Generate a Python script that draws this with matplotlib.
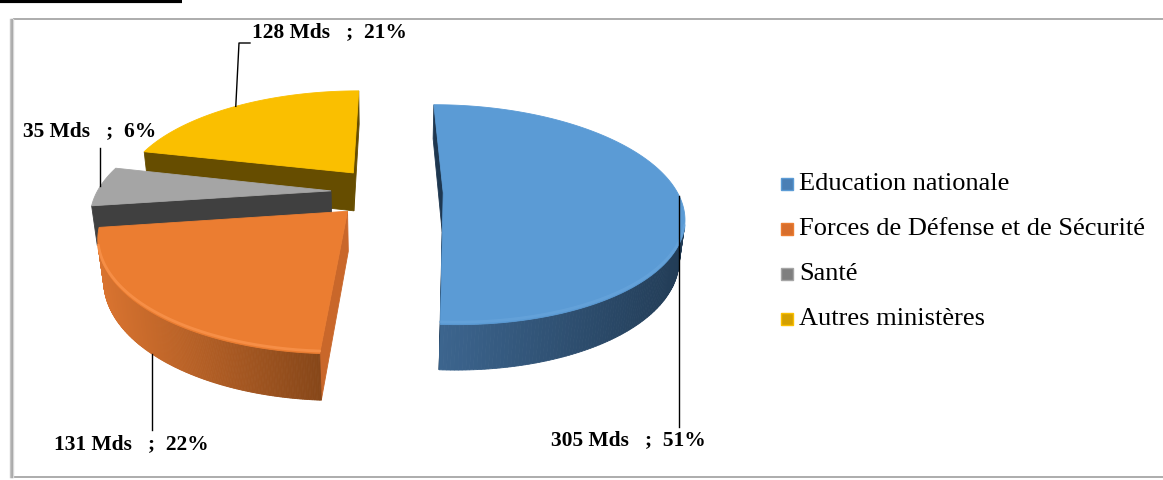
import numpy as np
import matplotlib
matplotlib.use('Agg')
import matplotlib.pyplot as plt
from matplotlib.patches import Polygon, Rectangle
from matplotlib.colors import to_rgb

plt.rcParams['font.family'] = ['Liberation Serif', 'DejaVu Serif']

# ---------------- data ----------------
categories = ['Education nationale', 'Forces de Défense et de Sécurité', 'Santé', 'Autres ministères']
values_mds = [305, 131, 35, 128]
unit_label = 'Mds'

# ---------------- style ----------------
top_colors = ['#5B9BD5', '#EB7D31', '#A5A5A5', '#FABF00']
rim_colors = ['#6AA6DD', '#F8924A', '#B4B4B4', '#FFCB30']
rim_alpha = [0.6, 0.85, 0.6, 0.6]
wall_light = ['#3D6690', '#DA7430', '#5A5A5A', '#8A6A00']
wall_dark = ['#223C56', '#874719', '#3C3C3C', '#5E4700']
radial_colors = ['#1E3750', '#C9672A', '#404040', '#664D00']
legend_colors = ['#4A7FB5', '#D86E2C', '#7F7F7F', '#D4A000']

# 3D projection parameters (perspective camera)
S_ = 0.45
C_ = np.sqrt(1 - S_ ** 2)
DIST = 4.48
FOC = 234 * DIST
CX, CY = 387, 192
HEIGHT = 0.19
EXPLODE = 0.24

fig = plt.figure(figsize=(11.63, 4.8), dpi=100)
ax = fig.add_axes([0, 0, 1, 1])
ax.set_xlim(0, 1163)
ax.set_ylim(480, 0)
ax.axis('off')


def proj(x, y, z):
    x = np.asarray(x, float); y = np.asarray(y, float); z = np.asarray(z, float)
    d = DIST + y * C_ - z * S_
    w = y * S_ + z * C_
    return CX + FOC * x / d, CY - FOC * w / d


def depth(x, y, z):
    return DIST + y * C_ - z * S_


cam = np.array([0.0, -DIST * C_, DIST * S_])

vals = np.array(values_mds, float)
fracs = vals / vals.sum()
cum = np.concatenate([[0], np.cumsum(fracs)])
slices = []
for i in range(len(vals)):
    a_hi = np.deg2rad(90 - cum[i] * 360)
    a_lo = np.deg2rad(90 - cum[i + 1] * 360)
    mid = 0.5 * (a_hi + a_lo)
    ox, oy = EXPLODE * np.cos(mid), EXPLODE * np.sin(mid)
    slices.append(dict(i=i, a0=a_lo, a1=a_hi, mid=mid, ox=ox, oy=oy))


def lerp_col(c1, c2, t):
    a = np.array(to_rgb(c1)); b = np.array(to_rgb(c2))
    return tuple(a + (b - a) * np.clip(t, 0, 1))


for sl in sorted(slices, key=lambda s: -s['oy']):
    i = sl['i']; ox, oy = sl['ox'], sl['oy']
    t = np.linspace(sl['a0'], sl['a1'], 240)
    rx, ry = ox + np.cos(t), oy + np.sin(t)
    tx, ty = proj(rx, ry, 0 * t)
    bx, by = proj(rx, ry, 0 * t - HEIGHT)
    xmin, xmax = tx.min(), tx.max()
    pieces = []
    vis = np.zeros(len(t), bool)
    for k in range(len(t) - 1):
        tm = 0.5 * (t[k] + t[k + 1])
        n = np.array([np.cos(tm), np.sin(tm), 0])
        p = np.array([ox + np.cos(tm), oy + np.sin(tm), -HEIGHT / 2])
        if n @ (cam - p) > 0:
            vis[k] = vis[k + 1] = True
            poly = [(tx[k], ty[k]), (tx[k + 1], ty[k + 1]), (bx[k + 1], by[k + 1]), (bx[k], by[k])]
            frac = ((tx[k] + tx[k + 1]) / 2 - xmin) / max(xmax - xmin, 1)
            col = lerp_col(wall_light[i], wall_dark[i], frac)
            pieces.append((depth(*p), poly, col))
    for a, sign in ((sl['a0'], -1), (sl['a1'], 1)):
        if sign < 0:
            n = np.array([np.sin(a), -np.cos(a), 0])
        else:
            n = np.array([-np.sin(a), np.cos(a), 0])
        ex, ey = ox + np.cos(a), oy + np.sin(a)
        p = np.array([(ox + ex) / 2, (oy + ey) / 2, -HEIGHT / 2])
        if n @ (cam - p) > 0:
            xs = [ox, ex, ex, ox]; ys = [oy, ey, ey, oy]; zs = [0, 0, -HEIGHT, -HEIGHT]
            px, py = proj(xs, ys, zs)
            pieces.append((depth(*p), list(zip(px, py)), radial_colors[i]))
    for dd, poly, col in sorted(pieces, key=lambda q: -q[0]):
        ax.add_patch(Polygon(poly, closed=True, facecolor=col, edgecolor=col, lw=0.6))
    ax0, ay0 = proj(ox, oy, 0)
    top = [(float(ax0), float(ay0))] + list(zip(tx, ty))
    ax.add_patch(Polygon(top, closed=True, facecolor=top_colors[i], edgecolor=top_colors[i], lw=0.6))
    if vis.any():
        ax.plot(np.where(vis, tx, np.nan), np.where(vis, ty - 2.5, np.nan),
                color=rim_colors[i], lw=2.0, alpha=rim_alpha[i], solid_capstyle='round')
    sl['anchor_top'] = proj(ox + np.cos(sl['mid']), oy + np.sin(sl['mid']), 0)
    sl['anchor_bot'] = proj(ox + np.cos(sl['mid']), oy + np.sin(sl['mid']), -HEIGHT)

# ---------------- data labels ----------------
pct = np.round(fracs * 100).astype(int)
labels = [f"{v} {unit_label}   ;  {p}%" for v, p in zip(values_mds, pct)]
lab_kw = dict(fontsize=15.5, fontweight='bold', color='black', va='center', ha='center')

axx, ayy = slices[0]['anchor_top']
ax.plot([axx, axx], [ayy, 427], color='black', lw=1)
ax.text(628, 440, labels[0], **lab_kw)
axx, ayy = slices[1]['anchor_bot']
ax.plot([axx, axx], [ayy, 430], color='black', lw=1)
ax.text(131, 444, labels[1], **lab_kw)
axx, ayy = slices[2]['anchor_top']
ax.plot([axx, axx], [ayy, 148], color='black', lw=1)
ax.text(90, 131, labels[2], **lab_kw)
axx, ayy = slices[3]['anchor_top']
ax.plot([axx, 239, 250], [ayy, 43, 43], color='black', lw=1)
ax.text(329, 32, labels[3], **lab_kw)

# ---------------- legend ----------------
for k, name in enumerate(categories):
    yy = 184 + k * 45
    ax.plot([787], [yy], marker='s', markersize=9, color=legend_colors[k],
            markeredgecolor=top_colors[k], markeredgewidth=1.0)
    ax.text(799, yy, name, fontsize=19, va='center', ha='left', color='black')

# ---------------- frame ----------------
ax.add_patch(Rectangle((13, 19), 1200, 458, fill=False, edgecolor='#A6A6A6', lw=1.3))
for off, g in zip(range(4), ['#C8C8C8', '#B4B4B4', '#A0A0A0', '#D8D8D8']):
    ax.plot([10 + off, 10 + off], [19, 477], color=g, lw=1)
ax.plot([0, 182], [1, 1], color='black', lw=3, solid_capstyle='butt')

fig.savefig('out.png', dpi=100)
